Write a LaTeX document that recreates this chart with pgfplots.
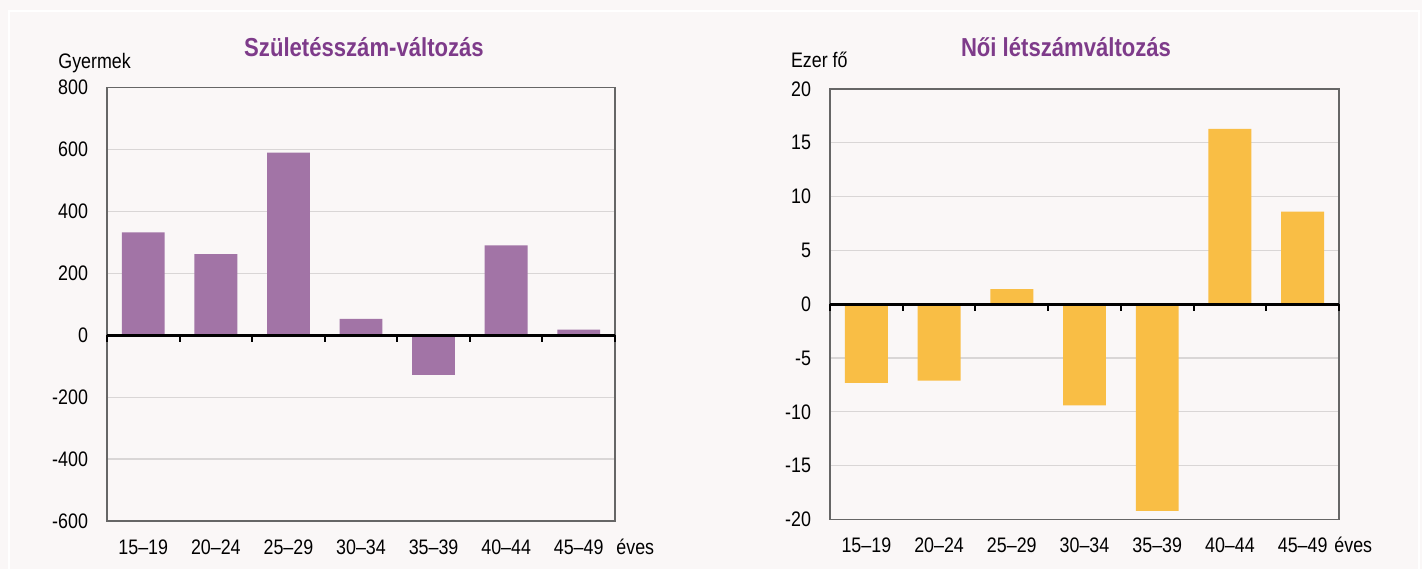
\documentclass[border=0pt]{standalone}
\usepackage{fontspec}
\setmainfont{Liberation Sans}[FakeStretch=0.85]
\usepackage{pgfplots}
\pgfplotsset{compat=1.18}

\definecolor{bgc}{HTML}{FAF7F7}
\definecolor{purplebar}{HTML}{A274A6}
\definecolor{orangebar}{HTML}{F9BE45}
\definecolor{titlec}{HTML}{7E3B8A}
\definecolor{gridc}{HTML}{D9D6D6}

\tikzset{zeroline/.style={line width=1.3pt, black}}

\pgfplotsset{
  panel/.style={
    scale only axis,
    anchor=south west,
    xmin=-0.5, xmax=6.5,
    xtick={0,...,6},
    xticklabels={15--19,20--24,25--29,30--34,35--39,40--44,45--49},
    major tick length=0pt,
    ymajorgrids,
    grid style={gridc, line width=0.6pt},
    axis line style={draw=black!60, line width=0.7pt},
    tick label style={font=\fontsize{10.5}{12}\selectfont, text=black},
    xticklabel style={anchor=base, yshift=-16.5pt},
    yticklabel style={xshift=-6pt},
    axis background/.style={fill=bgc},
    bar width=0.59,
    clip=false,
  },
}

\begin{document}
\begin{tikzpicture}
\useasboundingbox (0,0) rectangle (711pt,-284.5pt);
\fill[bgc] (0,0) rectangle (711pt,-284.5pt);
\draw[white, line width=1pt] (4.5pt,-290pt) -- (4.5pt,-5.5pt) -- (709.5pt,-5.5pt) -- (709.5pt,-290pt);

% left panel: births
\begin{axis}[panel,
  at={(53.5pt,-260.5pt)},
  width=254pt, height=216.75pt,
  ymin=-600, ymax=800,
  ytick={-600,-400,...,800},
  yticklabels={-600,-400,-200,0,200,400,600,800},
]
\addplot[ybar, fill=purplebar, draw=none] coordinates {
  (0,332) (1,262) (2,590) (3,53) (4,-128) (5,290) (6,18)};
\draw[zeroline] (axis cs:-0.5,0) -- (axis cs:6.5,0);
\pgfplotsinvokeforeach{-0.5,0.5,1.5,2.5,3.5,4.5,5.5,6.5}{
  \draw[line width=1pt] (axis cs:#1,0) -- ++(0pt,-3.5pt);
}
\end{axis}

% right panel: female population
\begin{axis}[panel,
  at={(415pt,-259.75pt)},
  width=254.5pt, height=215.25pt,
  ymin=-20, ymax=20,
  ytick={-20,-15,...,20},
  yticklabels={-20,-15,-10,-5,0,5,10,15,20},
]
\addplot[ybar, fill=orangebar, draw=none] coordinates {
  (0,-7.3) (1,-7.1) (2,1.4) (3,-9.4) (4,-19.2) (5,16.3) (6,8.6)};
\draw[zeroline] (axis cs:-0.5,0) -- (axis cs:6.5,0);
\pgfplotsinvokeforeach{-0.5,0.5,1.5,2.5,3.5,4.5,5.5,6.5}{
  \draw[line width=1pt] (axis cs:#1,0) -- ++(0pt,-3.5pt);
}
\end{axis}

\node[font=\bfseries\fontsize{13}{15}\selectfont, text=titlec] at (182pt,-23.5pt) {Születésszám-változás};
\node[font=\bfseries\fontsize{13}{15}\selectfont, text=titlec] at (533pt,-23.5pt) {Női létszámváltozás};
\node[anchor=base west, inner sep=0pt, font=\fontsize{10.5}{12}\selectfont] at (29pt,-34pt) {Gyermek};
\node[anchor=base west, inner sep=0pt, font=\fontsize{10.5}{12}\selectfont] at (395.3pt,-33.5pt) {Ezer fő};
\node[anchor=base west, inner sep=0pt, font=\fontsize{10.5}{12}\selectfont] at (308pt,-277pt) {éves};
\node[anchor=base west, inner sep=0pt, font=\fontsize{10.5}{12}\selectfont] at (667pt,-276.3pt) {éves};
\end{tikzpicture}
\end{document}
